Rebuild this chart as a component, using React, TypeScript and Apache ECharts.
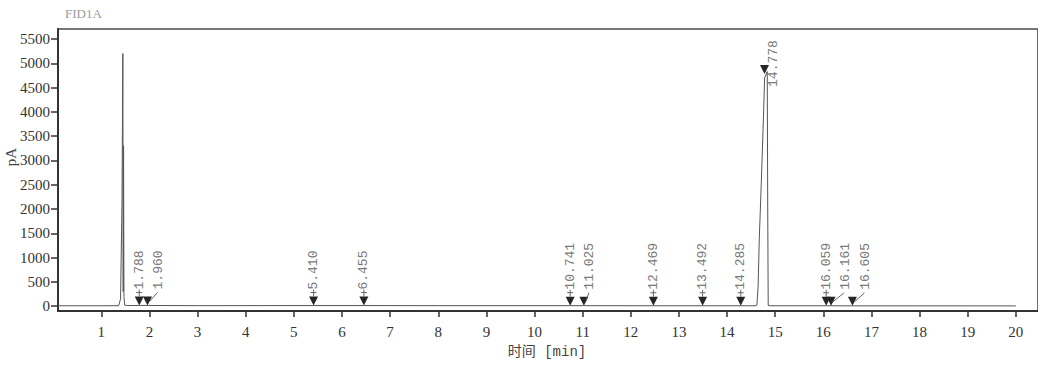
import React, { useEffect, useRef } from "react";
import * as echarts from "echarts";

// Chromatogram trace (time in min, signal in pA)
const signalTime = [0.1, 1.0, 1.36, 1.4, 1.43, 1.447, 1.455, 1.462, 1.47, 1.485, 1.55, 1.788, 1.96, 3.0, 5.41, 6.455, 8.0, 10.741, 11.025, 12.469, 13.492, 14.285, 14.58, 14.62, 14.645, 14.67, 14.71, 14.76, 14.78, 14.835, 14.845, 14.855, 14.9, 16.059, 16.161, 16.605, 18.0, 20.0];
const signalPA = [8, 8, 10, 150, 2200, 5200, 300, 3300, 200, 20, 12, 14, 14, 10, 12, 12, 10, 10, 10, 8, 8, 8, 8, 20, 400, 1400, 2500, 4000, 4700, 4830, 2000, 15, 8, 8, 8, 6, 6, 5];

// Integrated peaks: retention times and marker level (pA)
const peakTimes = [1.788, 1.96, 5.41, 6.455, 10.741, 11.025, 12.469, 13.492, 14.285, 14.778, 16.059, 16.161, 16.605];
const peakLevel = [14, 14, 12, 12, 10, 10, 8, 8, 8, 4780, 8, 8, 6];

// Tick labels
const xTicks = [1, 2, 3, 4, 5, 6, 7, 8, 9, 10, 11, 12, 13, 14, 15, 16, 17, 18, 19, 20];
const yTicks = [0, 500, 1000, 1500, 2000, 2500, 3000, 3500, 4000, 4500, 5000, 5500];

// label placement styles (px)
const labelDx = [0, 11, 0, 0, 0, 6, 0, 0, 0, 9, 0, 14, 13];
const labelDy = [-16, -16, -16, -16, -16, -16, -16, -16, -16, 13, -16, -16, -16];

export default function App() {
  const ref = useRef<HTMLDivElement>(null);
  useEffect(() => {
    if (!ref.current) return;
    const chart = echarts.init(ref.current, undefined, { renderer: "svg" });
    const serif = '"Liberation Serif", "DejaVu Serif", serif';
    const mono = '"Liberation Mono", "DejaVu Sans Mono", monospace';
    const option: any = {
      animation: false,
      backgroundColor: "#ffffff",
      grid: {
        left: 58,
        top: 29,
        right: -5,
        bottom: 54,
        show: true,
        borderColor: "#4a4a4a",
        borderWidth: 1.6,
        containLabel: false,
      },
      xAxis: {
        type: "value",
        min: 0.1,
        max: 20.46,
        axisLine: { show: true, onZero: false, lineStyle: { color: "#333", width: 2 } },
        axisTick: { show: true, length: 6, customValues: xTicks, lineStyle: { color: "#333", width: 1.5 } },
        axisLabel: {
          customValues: xTicks,
          margin: 13,
          color: "#333",
          fontSize: 15,
          fontFamily: serif,
          formatter: (v: number) => String(v),
        },
        splitLine: { show: false },
      },
      yAxis: {
        type: "value",
        min: -100,
        max: 5706,
        axisLine: { show: true, onZero: false, lineStyle: { color: "#333", width: 2 } },
        axisTick: { show: true, length: 7, customValues: yTicks, lineStyle: { color: "#333", width: 1.5 } },
        axisLabel: {
          customValues: yTicks,
          margin: 8,
          color: "#333",
          fontSize: 15,
          fontFamily: serif,
          formatter: (v: number) => String(v),
        },
        splitLine: { show: false },
      },
      graphic: [
        {
          type: "text",
          left: 65,
          top: 7,
          style: { text: "FID1A", fill: "#9a9a9a", font: '13px "Liberation Serif", serif' },
        },
        {
          type: "text",
          x: 11,
          y: 157,
          rotation: Math.PI / 2,
          style: {
            text: "pA",
            fill: "#444",
            font: '15px "Liberation Serif", serif',
            textAlign: "center",
            textVerticalAlign: "middle",
            align: "center",
            verticalAlign: "middle",
          },
        },
        {
          type: "text",
          x: 547,
          y: 352,
          style: {
            text: "时间 [min]",
            fill: "#444",
            font: '14px "Liberation Mono", "Noto Sans CJK SC", monospace',
            textAlign: "center",
            textVerticalAlign: "middle",
            align: "center",
            verticalAlign: "middle",
          },
        },
      ],
      series: [
        {
          type: "line",
          data: signalTime.map((t, i) => [t, signalPA[i]]),
          showSymbol: false,
          symbol: "none",
          lineStyle: { color: "#555", width: 1 },
          z: 2,
        },
        {
          type: "custom",
          coordinateSystem: "cartesian2d",
          clip: false,
          z: 3,
          encode: { x: 0, y: 1 },
          data: peakTimes.map((t, i) => [t, peakLevel[i]]),
          renderItem: (params: any, api: any) => {
            const i = params.dataIndex;
            const p = api.coord([api.value(0), api.value(1)]);
            const x = p[0];
            const y = p[1];
            const dx = labelDx[i];
            const dy = labelDy[i];
            const children: any[] = [
              {
                type: "polygon",
                shape: { points: [[x - 4.5, y - 9], [x + 4.5, y - 9], [x, y]] },
                style: { fill: "#262626" },
              },
            ];
            if (dy < 0) {
              if (dx === 0) {
                children.push({
                  type: "line",
                  shape: { x1: x, y1: y - 9, x2: x, y2: y + dy },
                  style: { stroke: "#666", lineWidth: 1 },
                });
                children.push({
                  type: "line",
                  shape: { x1: x - 3, y1: y - 13, x2: x + 3, y2: y - 13 },
                  style: { stroke: "#666", lineWidth: 1 },
                });
              } else {
                children.push({
                  type: "line",
                  shape: { x1: x + 2, y1: y - 4, x2: x + dx - 1, y2: y + dy + 3 },
                  style: { stroke: "#666", lineWidth: 1 },
                });
              }
            }
            children.push({
              type: "text",
              x: x + dx,
              y: y + dy,
              rotation: Math.PI / 2,
              style: {
                text: peakTimes[i].toFixed(3),
                fill: "#7a7a7a",
                font: "13px " + mono,
                textAlign: "left",
                textVerticalAlign: "middle",
                align: "left",
                verticalAlign: "middle",
              },
            });
            return { type: "group", children };
          },
        },
      ],
    };
    chart.setOption(option);
    return () => chart.dispose();
  }, []);
  return (
    <div
      ref={ref}
      style={{ position: "absolute", left: 0, top: 0, width: 1038, height: 365, background: "#fff" }}
    />
  );
}
